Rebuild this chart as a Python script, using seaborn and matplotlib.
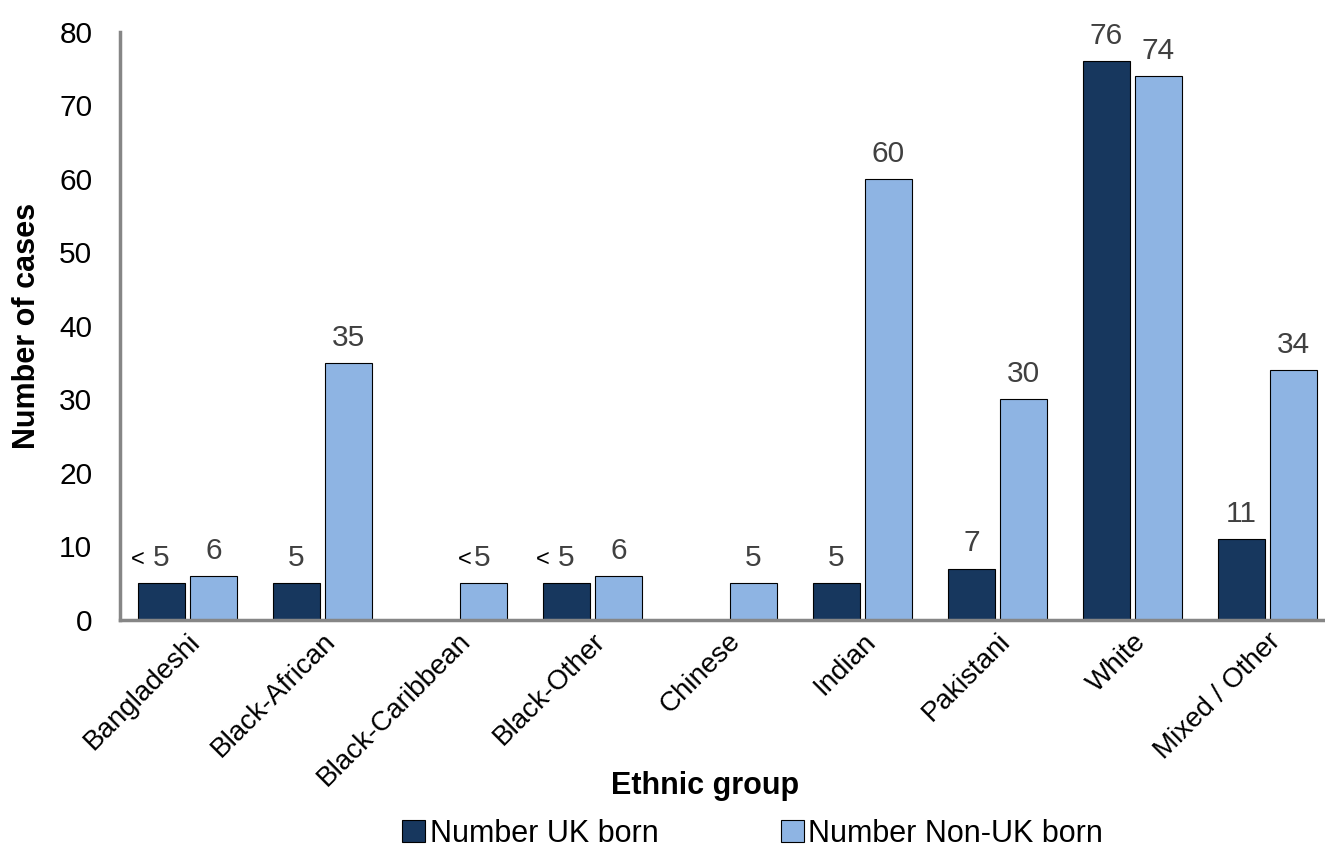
import matplotlib
matplotlib.use("Agg")
import matplotlib.pyplot as plt
import seaborn as sns
import pandas as pd
import numpy as np

categories = ["Bangladeshi", "Black-African", "Black-Caribbean", "Black-Other",
              "Chinese", "Indian", "Pakistani", "White", "Mixed / Other"]
uk_born = [5, 5, np.nan, 5, np.nan, 5, 7, 76, 11]
non_uk_born = [6, 35, 5, 6, 5, 60, 30, 74, 34]
uk_labels = ["< 5", "5", "", "< 5", "", "5", "7", "76", "11"]
non_uk_labels = ["6", "35", "<5", "6", "5", "60", "30", "74", "34"]
series = ["Number UK born", "Number Non-UK born"]
colors = {"Number UK born": "#17375E", "Number Non-UK born": "#8EB4E3"}

sns.set_theme(style="white")
plt.rcParams["font.family"] = ["Liberation Sans", "DejaVu Sans"]

df = pd.DataFrame({
    "cat": categories * 2,
    "val": uk_born + non_uk_born,
    "series": [series[0]] * len(categories) + [series[1]] * len(categories),
})

fig = plt.figure(figsize=(13.25, 8.48), dpi=100)
ax = fig.add_axes([0.0906, 0.2689, 0.9094, 0.6934])

sns.barplot(data=df, x="cat", y="val", hue="series", order=categories,
            hue_order=series, palette=colors, saturation=1, width=0.77, gap=0.09,
            edgecolor="black", linewidth=0.8, ax=ax, legend=True)

PX = 0.72  # px -> points at dpi 100
for cont, labs in zip(ax.containers, [uk_labels, non_uk_labels]):
    for bar in cont:
        if bar is None:
            continue
        cx = bar.get_x() + bar.get_width() / 2
        idx = int(round(cx))
        h = bar.get_height()
        if np.isnan(h):
            continue
        lab = labs[idx]
        if lab.startswith("<"):
            num = lab.lstrip("< ")
            num_r, lt_r = (7.5, -16.5) if " " in lab else (7, -12)
            ax.annotate(num, (cx, h), xytext=(num_r * PX, 8), textcoords="offset points",
                        ha="right", va="bottom", fontsize=21.5, color="#404040")
            ax.annotate("<", (cx, h), xytext=(lt_r * PX, 9),
                        textcoords="offset points", ha="right", va="bottom",
                        fontsize=17, color="black")
        else:
            ax.annotate(lab, (cx, h), xytext=(0, 8), textcoords="offset points",
                        ha="center", va="bottom", fontsize=21.5, color="#404040")

ax.set_ylim(0, 80)
ax.set_yticks(range(0, 81, 10))
ax.set_xlim(-0.5, 8.5 - 10 / 135)
ax.tick_params(axis="y", labelsize=21.5, length=0, pad=20, colors="black")
ax.tick_params(axis="x", labelsize=20, length=0, pad=6, colors="black")
plt.setp(ax.get_xticklabels(), rotation=45, ha="right", rotation_mode="anchor")

ax.set_ylabel("Number of cases", fontsize=22, fontweight="bold", labelpad=12,
              color="black")
ax.set_xlabel("Ethnic group", fontsize=22, fontweight="bold", color="black")
ax.xaxis.set_label_coords(0.4855, -0.256)

for s in ["top", "right"]:
    ax.spines[s].set_visible(False)
for s in ["left", "bottom"]:
    ax.spines[s].set_color("#868686")
    ax.spines[s].set_linewidth(2.5)

leg = ax.legend(loc="center", bbox_to_anchor=(0.568, 0.017), bbox_transform=fig.transFigure,
                ncol=2, frameon=False, fontsize=22, handlelength=0.75, handleheight=0.75,
                handletextpad=0.15, columnspacing=4.0)
for t in leg.get_texts():
    t.set_color("black")
for h in leg.legend_handles:
    h.set_edgecolor("black")
    h.set_linewidth(0.8)

fig.savefig("out.png", dpi=100)
